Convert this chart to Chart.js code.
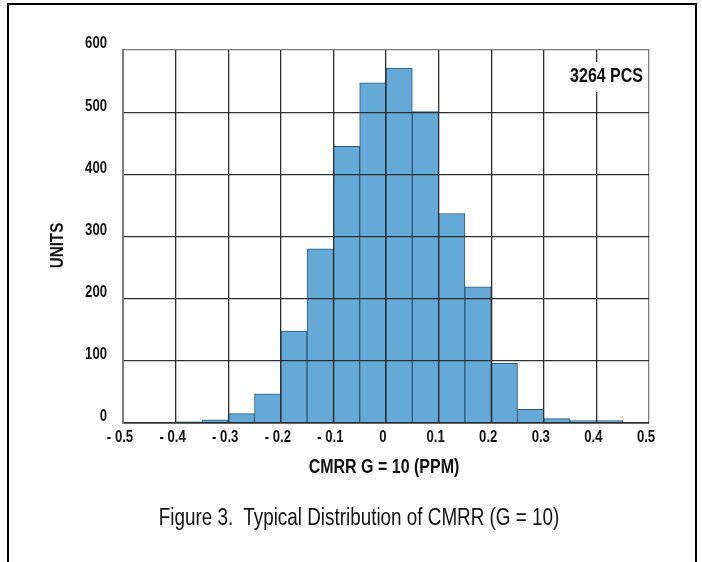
<!DOCTYPE html>
<html>
<head>
<meta charset="utf-8">
<script src="https://cdn.jsdelivr.net/npm/chart.js@4.4.1/dist/chart.umd.min.js"></script>
<style>
    html, body { margin: 0; padding: 0; background: #fff; }
    #wrap { position: relative; width: 702px; height: 562px; overflow: hidden; }
    #frame {
        position: absolute; left: 7px; top: 3px; width: 686px; height: 600px;
        border: 2px solid #000; border-bottom: none;
    }
    #caption {
        position: absolute; left: 14px; width: 690px; top: 504px; text-align: center;
        font-family: "Liberation Sans", Arial, sans-serif;
        font-size: 23px; color: #111; white-space: nowrap;
        transform: scaleX(0.82); transform-origin: center;
    }
    canvas { position: absolute; left: 0; top: 0; }
</style>
</head>
<body>
<div id="wrap">
    <div id="frame"></div>
    <canvas id="histo" width="702" height="562"></canvas>
    <div id="caption">Figure 3.&nbsp; Typical Distribution of CMRR (G = 10)</div>
</div>
<script>
document.addEventListener("DOMContentLoaded", () => {
    const fuente = '"Liberation Sans", Arial, sans-serif';
    const angosto = 0.82;   // ancho relativo para imitar una letra condensada

    // Centros de cada intervalo (ancho 0.05 ppm) y cantidad de unidades
    const centrosBin = [-0.375, -0.325, -0.275, -0.225, -0.175, -0.125, -0.075, -0.025,
                        0.025, 0.075, 0.125, 0.175, 0.225, 0.275, 0.325, 0.375, 0.425];
    const unidades = [2, 5, 15, 47, 148, 280, 445, 547, 571, 501, 337, 219, 96, 22, 7, 4, 4];
    const totalPiezas = "3264 PCS";

    // Etiquetas y títulos de los ejes
    const ticksX = [-0.5, -0.4, -0.3, -0.2, -0.1, 0, 0.1, 0.2, 0.3, 0.4, 0.5];
    const ticksY = [0, 100, 200, 300, 400, 500, 600];
    const tituloX = "CMRR G = 10 (PPM)";
    const tituloY = "UNITS";

    function etiquetaX(v) {
        const r = Math.round(v * 10) / 10;
        if (r === 0) return "0";
        return r < 0 ? "- " + Math.abs(r).toFixed(1) : r.toFixed(1);
    }

    // Texto en negrita comprimido horizontalmente
    function textoAngosto(ctx, texto, x, y, tam, alinear, angulo) {
        ctx.save();
        ctx.translate(x, y);
        if (angulo) ctx.rotate(angulo);
        ctx.scale(angosto, 1);
        ctx.font = "bold " + tam + "px " + fuente;
        ctx.fillStyle = "#111";
        ctx.textAlign = alinear;
        ctx.textBaseline = "middle";
        ctx.fillText(texto, 0, 0);
        ctx.restore();
    }

    // Etiquetas de ejes, títulos y el recuadro con el total de piezas
    const rotulos = {
        id: "rotulos",
        afterDraw(chart) {
            const { ctx, chartArea, scales } = chart;
            const x = scales.x, y = scales.y;

            ticksY.forEach(v => {
                textoAngosto(ctx, String(v), chartArea.left - 16, y.getPixelForValue(v) - 6, 16, "right");
            });
            ticksX.forEach(v => {
                textoAngosto(ctx, etiquetaX(v), x.getPixelForValue(v) - 3, chartArea.bottom + 15, 16, "center");
            });

            textoAngosto(ctx, tituloX, (chartArea.left + chartArea.right) / 2 - 2, chartArea.bottom + 45, 19.5, "center");
            textoAngosto(ctx, tituloY, 58, (chartArea.top + chartArea.bottom) / 2 + 9, 18.5, "center", -Math.PI / 2);

            // recuadro blanco que corta la grilla detrás del texto
            ctx.save();
            ctx.font = "bold 19.5px " + fuente;
            const ancho = ctx.measureText(totalPiezas).width * angosto;
            const xDer = chartArea.right - 6;
            const yMed = chartArea.top + 27;
            ctx.fillStyle = "#fff";
            ctx.fillRect(xDer - ancho - 4, yMed - 15, ancho + 8, 30);
            ctx.restore();
            textoAngosto(ctx, totalPiezas, xDer, yMed, 19.5, "right");
        }
    };

    const colorX = (c) => (c.tick && c.tick.value >= 0.5 ? "#7a7a7a" : "#2e2e2e");
    const colorY = (c) => (c.tick && c.tick.value >= 600 ? "#7a7a7a" : "#2e2e2e");

    new Chart(document.getElementById("histo").getContext("2d"), {
        type: "bar",
        data: {
            datasets: [{
                data: centrosBin.map((c, i) => ({ x: c, y: unidades[i] })),
                backgroundColor: "#64a9d7",
                borderColor: "#2f5877",
                borderWidth: 1,
                barPercentage: 1,
                categoryPercentage: 1
            }]
        },
        options: {
            responsive: false,
            animation: false,
            layout: { padding: { top: 50, right: 53, bottom: 84, left: 0 } },
            plugins: {
                legend: { display: false },
                tooltip: { enabled: false }
            },
            scales: {
                x: {
                    type: "linear",
                    min: -0.5,
                    max: 0.5,
                    offset: false,
                    afterBuildTicks: (scale) => { scale.ticks = ticksX.map(v => ({ value: v })); },
                    afterFit: (scale) => { scale.height = 55; },
                    grid: { offset: false, drawTicks: false, color: colorX, lineWidth: 1.3, z: 1 },
                    border: { color: "#7a7a7a", width: 2, z: 1 },
                    ticks: { display: false }
                },
                y: {
                    min: 0,
                    max: 600,
                    afterBuildTicks: (scale) => { scale.ticks = ticksY.map(v => ({ value: v })); },
                    afterFit: (scale) => { scale.width = 123; },
                    grid: { drawTicks: false, color: colorY, lineWidth: 1.3, z: 1 },
                    border: { color: "#7a7a7a", width: 2, z: 1 },
                    ticks: { display: false }
                }
            }
        },
        plugins: [rotulos]
    });
});
</script>
</body>
</html>
